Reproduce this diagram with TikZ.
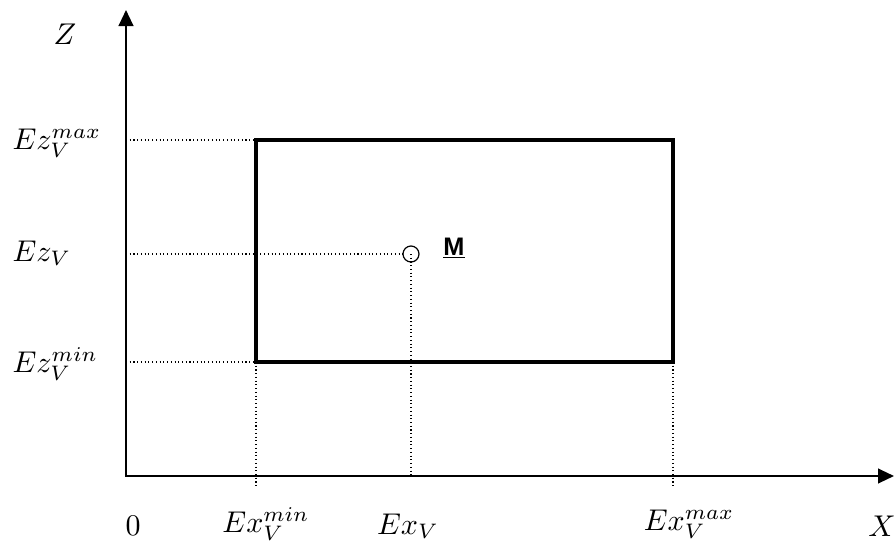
\documentclass[tikz,border=0pt]{standalone}
\usepackage{fontspec}
\newfontfamily\labelsans{Liberation Sans}
\usetikzlibrary{arrows.meta}
\begin{document}
\begin{tikzpicture}[x=0.75pt,y=-0.75pt,
  axis/.style={line width=1.6pt,{Triangle[length=12pt,width=11pt]}-{Triangle[length=12pt,width=11pt]}},
  guide/.style={dotted,line width=0.8pt},
  box/.style={line width=3.2pt},
  lab/.style={inner sep=0pt,scale=2.25,transform shape},
  marker/.style={circle,draw,line width=0.9pt,minimum size=12pt,inner sep=0pt}]
\useasboundingbox (0,0) rectangle (895,543);
\fill[white] (0,0) rectangle (895,543);
% axes
\coordinate (O) at (126,476);
\coordinate (ztip) at (126,10);
\coordinate (xtip) at (894,476);
\draw[axis] (ztip) -- (O) -- (xtip);
% rectangle
\coordinate (tl) at (256,140);
\coordinate (tr) at (673,140);
\coordinate (br) at (673,362);
\coordinate (bl) at (256,362);
\draw[box] (tl) rectangle (br);
% point M
\node[marker] (m) at (411,254) {};
\node[font=\labelsans\bfseries\fontsize{19}{23}\selectfont,inner sep=0pt] (mlab) at (454,248) {\underline{M}};
% guide lines
\coordinate (zmax) at (126,140);
\coordinate (zv) at (126,254);
\coordinate (zmin) at (126,362);
\coordinate (xmin) at (256,487);
\coordinate (xv) at (411,476);
\coordinate (xmax) at (673,487);
\draw[guide] (zmax) -- (tl);
\draw[guide] (zv) -- (m.west);
\draw[guide] (zmin) -- (bl);
\draw[guide] (bl) -- (xmin);
\draw[guide] (m.center) -- (xv);
\draw[guide] (br) -- (xmax);
% labels
\node[lab] (zl) at (65,34) {$Z$};
\node[lab,anchor=west] (lzmax) at (12,143) {$Ez_V^{max}$};
\node[lab,anchor=west] (lzv) at (12,253) {$Ez_V$};
\node[lab,anchor=west] (lzmin) at (12,364) {$Ez_V^{min}$};
\node[lab] (l0) at (133,526) {$0$};
\node[lab] (lxmin) at (266,524) {$Ex_V^{min}$};
\node[lab] (lxv) at (408,526) {$Ex_V$};
\node[lab] (lxmax) at (689,524) {$Ex_V^{max}$};
\node[lab] (lx) at (882,526) {$X$};
\end{tikzpicture}
\end{document}
